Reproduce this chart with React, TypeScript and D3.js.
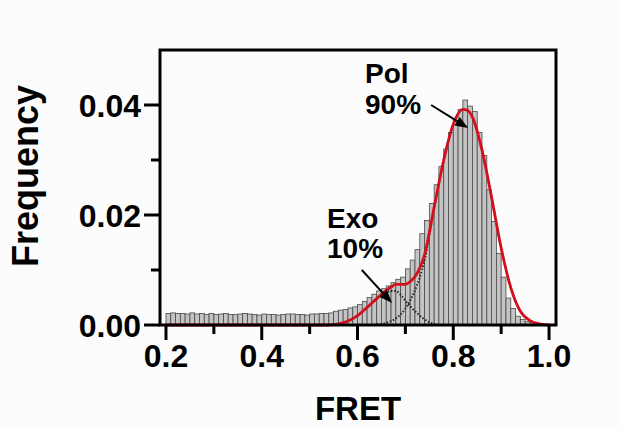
import React from 'react';
import * as d3 from 'd3';

// Histogram: bin start (FRET) and frequency, 0.01 wide bins
const binStarts = d3.range(80).map((i) => +(0.2 + i * 0.01).toFixed(2));
const binValues = [
  0.0021, 0.0022, 0.0021, 0.0021, 0.002, 0.0022, 0.002, 0.0021, 0.0019, 0.0021,
  0.0019, 0.002, 0.0021, 0.0019, 0.0019, 0.002, 0.0021, 0.002, 0.0019, 0.0018,
  0.002, 0.0019, 0.0019, 0.0018, 0.0019, 0.002, 0.002, 0.0019, 0.0019, 0.0018,
  0.002, 0.002, 0.0021, 0.0021, 0.0022, 0.0025, 0.0027, 0.0028, 0.0031, 0.0033,
  0.0037, 0.0043, 0.005, 0.0056, 0.0062, 0.0066, 0.0071, 0.0077, 0.0083, 0.0087,
  0.0102, 0.0118, 0.0137, 0.0166, 0.019, 0.0221, 0.0255, 0.0288, 0.032, 0.035,
  0.0372, 0.0392, 0.0409, 0.0398, 0.0388, 0.035, 0.0308, 0.0246, 0.0188, 0.013,
  0.0087, 0.0049, 0.003, 0.0016, 0.001, 0.0006, 0.0004, 0.0002, 0.0001, 0.00005,
];

// Fit curves
const totalX = [0.2, 0.54, 0.56, 0.58, 0.6, 0.62, 0.64, 0.66, 0.67, 0.68, 0.69, 0.7, 0.71, 0.72, 0.74, 0.76, 0.78, 0.8, 0.82, 0.83, 0.84, 0.86, 0.88, 0.9, 0.92, 0.94, 0.96, 0.98, 1.0];
const totalY = [0, 0, 0.0002, 0.0007, 0.0017, 0.0032, 0.0048, 0.0063, 0.0069, 0.0074, 0.0074, 0.0074, 0.0079, 0.0088, 0.0128, 0.0214, 0.03, 0.0365, 0.0392, 0.039, 0.0378, 0.0318, 0.0232, 0.014, 0.0068, 0.0025, 0.0008, 0.0002, 0];

const exoX = [0.54, 0.56, 0.58, 0.6, 0.62, 0.64, 0.65, 0.66, 0.67, 0.68, 0.69, 0.7, 0.71, 0.72, 0.73, 0.74, 0.75, 0.76, 0.77];
const exoY = [0, 0.0002, 0.0007, 0.0017, 0.0032, 0.0047, 0.0054, 0.0059, 0.0062, 0.0062, 0.0055, 0.0044, 0.0034, 0.0025, 0.0017, 0.001, 0.0005, 0.0002, 0];

const polX = [0.62, 0.64, 0.66, 0.68, 0.7, 0.71, 0.72, 0.74, 0.76, 0.78, 0.8, 0.82, 0.83, 0.84, 0.86, 0.88, 0.9, 0.92, 0.94, 0.96, 0.98, 1.0];
const polY = [0, 0.0001, 0.0004, 0.0012, 0.003, 0.0045, 0.0063, 0.0118, 0.0212, 0.03, 0.0365, 0.0392, 0.039, 0.0378, 0.0318, 0.0232, 0.014, 0.0068, 0.0025, 0.0008, 0.0002, 0];

const xMajor = [0.2, 0.4, 0.6, 0.8, 1.0];
const xMinor = [0.3, 0.5, 0.7, 0.9];
const yMajor = [0, 0.02, 0.04];
const yMinor = [0.01, 0.03];

// annotation labels + arrows, in data coords
const annotations = [
  { l1: 'Pol', l2: '90%', tx: 0.6157, y1: 0.044, y2: 0.0384, fx: 0.7537, fy: 0.04, ax: 0.831, ay: 0.0358 },
  { l1: 'Exo', l2: '10%', tx: 0.5363, y1: 0.0176, y2: 0.0122, fx: 0.609, fy: 0.01, ax: 0.672, ay: 0.004 },
];

const W = 621;
const H = 427;
const font = '"Liberation Sans", Arial, sans-serif';

const App = () => {
  const x = d3.scaleLinear().domain([0.1875, 1.0145]).range([160, 556]);
  const y = d3.scaleLinear().domain([0, 0.05]).range([325, 50]);
  const [x0, x1] = x.range();
  const [y0, y1] = y.range();

  const line = d3
    .line<[number, number]>()
    .x((d) => x(d[0]))
    .y((d) => y(d[1]))
    .curve(d3.curveMonotoneX);

  const total = line(totalX.map((v, i) => [v, totalY[i]]));
  const exo = line(exoX.map((v, i) => [v, exoY[i]]));
  const pol = line(polX.map((v, i) => [v, polY[i]]));

  const arrow = (a) => {
    const sx = x(a.fx), sy = y(a.fy), ex = x(a.ax), ey = y(a.ay);
    const ang = Math.atan2(ey - sy, ex - sx);
    const len = 13, half = 5;
    const bx = ex - len * Math.cos(ang), by = ey - len * Math.sin(ang);
    const px = -Math.sin(ang) * half, py = Math.cos(ang) * half;
    return (
      <g key={a.l1}>
        <line x1={sx} y1={sy} x2={bx} y2={by} stroke="#000" strokeWidth={2} />
        <polygon points={`${ex},${ey} ${bx + px},${by + py} ${bx - px},${by - py}`} fill="#000" />
      </g>
    );
  };

  return (
    <svg width={W} height={H} style={{ position: 'absolute', left: 0, top: 0, background: '#fcfcfc' }} fontFamily={font} fontWeight="bold">
      <rect width={W} height={H} fill="#fcfcfc" />
      {binStarts.map((b, i) => (
        <rect
          key={b}
          x={x(b)}
          y={y(binValues[i])}
          width={x(b + 0.01) - x(b)}
          height={y0 - y(binValues[i])}
          fill="#c4c4c4"
          stroke="#4a4a4a"
          strokeWidth={0.8}
        />
      ))}
      <path d={exo} fill="none" stroke="#222" strokeWidth={2} strokeDasharray="1.5 1.8" />
      <path d={pol} fill="none" stroke="#222" strokeWidth={2} strokeDasharray="1.5 1.8" />
      <path d={total} fill="none" stroke="#d4101c" strokeWidth={2.8} />

      {/* frame */}
      <rect x={x0} y={y1} width={x1 - x0} height={y0 - y1} fill="none" stroke="#000" strokeWidth={3} />

      {xMajor.map((t) => (
        <g key={t}>
          <line x1={x(t)} x2={x(t)} y1={y0} y2={y0 + 15} stroke="#000" strokeWidth={3} />
          <text x={x(t)} y={367} textAnchor="middle" fontSize={32}>{t.toFixed(1)}</text>
        </g>
      ))}
      {xMinor.map((t) => (
        <line key={t} x1={x(t)} x2={x(t)} y1={y0} y2={y0 + 9} stroke="#000" strokeWidth={3} />
      ))}
      {yMajor.map((t) => (
        <g key={t}>
          <line x1={x0 - 16} x2={x0} y1={y(t)} y2={y(t)} stroke="#000" strokeWidth={3} />
          <text x={141} y={y(t) + 11.5} textAnchor="end" fontSize={32}>{t.toFixed(2)}</text>
        </g>
      ))}
      {yMinor.map((t) => (
        <line key={t} x1={x0 - 9} x2={x0} y1={y(t)} y2={y(t)} stroke="#000" strokeWidth={3} />
      ))}

      <text x={(x0 + x1) / 2} y={420} textAnchor="middle" fontSize={33}>FRET</text>
      <text transform="translate(38,176) rotate(-90)" textAnchor="middle" fontSize={36}>Frequency</text>

      {annotations.map((a) => (
        <g key={a.l1 + 't'}>
          <text x={x(a.tx)} y={y(a.y1)} fontSize={28}>{a.l1}</text>
          <text x={x(a.tx)} y={y(a.y2)} fontSize={28}>{a.l2}</text>
        </g>
      ))}
      {annotations.map(arrow)}
    </svg>
  );
};

export default App;
